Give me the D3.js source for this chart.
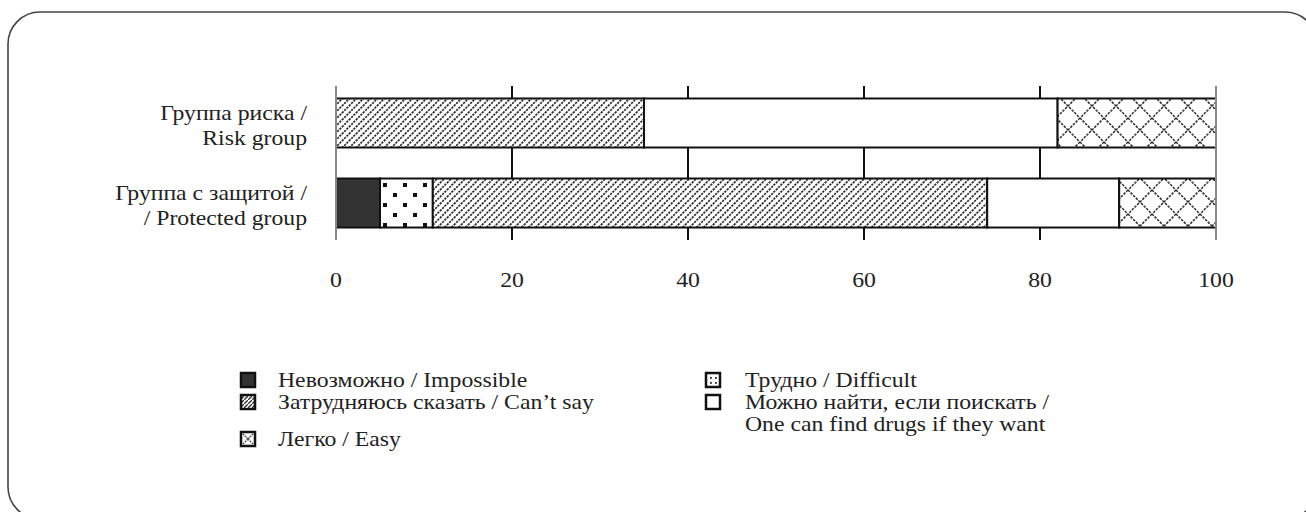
<!DOCTYPE html>
<html><head><meta charset="utf-8">
<script src="https://cdn.jsdelivr.net/npm/d3@7"></script>
<style>
html,body{margin:0;padding:0;background:#fff;}
svg text{font-family:"Liberation Serif","Times New Roman",serif;fill:#222;}
</style></head>
<body><svg id="c" width="1306" height="512"></svg>
<script>
const categories = ["Группа риска / Risk group", "Группа с защитой / Protected group"];
const categoryLines = [["Группа риска /", "Risk group"], ["Группа с защитой /", "/ Protected group"]];
const seriesNames = ["Невозможно / Impossible", "Трудно / Difficult", "Затрудняюсь сказать / Can’t say", "Можно найти, если поискать / One can find drugs if they want", "Легко / Easy"];
const impossible = [0, 5];
const difficult = [0, 6];
const cantSay = [35, 63];
const canFind = [47, 15];
const easy = [18, 11];
const xTicks = [0, 20, 40, 60, 80, 100];

const FS = 21, SX = 1.13;
const svg = d3.select("#c");
const defs = svg.append("defs");

function stext(sel, x, y, t, anchor){
  return sel.append("text").attr("transform",`translate(${x},${y}) scale(${SX},1)`)
    .attr("text-anchor",anchor||"start").attr("font-size",FS).text(t);
}

// patterns
const pHatch = defs.append("pattern").attr("id","hatch").attr("patternUnits","userSpaceOnUse").attr("width",7).attr("height",7);
pHatch.append("rect").attr("width",7).attr("height",7).attr("fill","#fff");
pHatch.append("path").attr("d","M-1,8 L8,-1 M-1,1 L1,-1 M6,8 L8,6").attr("stroke","#2a2a2a").attr("stroke-width",1.7).attr("stroke-dasharray","2.2,1");

const pCross = defs.append("pattern").attr("id","cross").attr("patternUnits","userSpaceOnUse").attr("width",24).attr("height",24).attr("y",-2);
pCross.append("rect").attr("width",24).attr("height",24).attr("fill","#fff");
pCross.append("path").attr("d","M0,0 L24,24 M24,0 L0,24").attr("stroke","#2a2a2a").attr("stroke-width",1.5).attr("stroke-dasharray","2.5,1.2");

const pDots = defs.append("pattern").attr("id","dots").attr("patternUnits","userSpaceOnUse").attr("width",20).attr("height",20).attr("x",3).attr("y",3);
pDots.append("rect").attr("width",20).attr("height",20).attr("fill","#fff");
pDots.append("rect").attr("x",0).attr("y",0).attr("width",4).attr("height",4).attr("fill","#111");
pDots.append("rect").attr("x",10).attr("y",10).attr("width",4).attr("height",4).attr("fill","#111");

const lHatch = defs.append("pattern").attr("id","lhatch").attr("patternUnits","userSpaceOnUse").attr("width",4).attr("height",4);
lHatch.append("rect").attr("width",4).attr("height",4).attr("fill","#fff");
lHatch.append("path").attr("d","M-1,5 L5,-1").attr("stroke","#333").attr("stroke-width",1.3);

const fills = ["#333333", "url(#dots)", "url(#hatch)", "#ffffff", "url(#cross)"];
const legendFills = ["#333333", "dots", "url(#lhatch)", "#ffffff", "cross"];

// frame
svg.append("rect").attr("x",8).attr("y",12).attr("width",1309).attr("height",507).attr("rx",32).attr("ry",32)
  .attr("fill","none").attr("stroke","#444").attr("stroke-width",1.6);

const x = d3.scaleLinear().domain([0,100]).range([336,1216]);
const y = d3.scaleBand().domain(categories).range([86,240]).paddingInner(0.3875).paddingOuter(0.156);

// gridlines
svg.append("g").selectAll("line").data(xTicks.filter(t=>t>0&&t<100)).join("line")
  .attr("x1",d=>x(d)).attr("x2",d=>x(d)).attr("y1",86).attr("y2",240)
  .attr("stroke","#111").attr("stroke-width",2);

// stacks
const seriesVals = [impossible, difficult, cantSay, canFind, easy];
const barG = svg.append("g");
categories.forEach((c,ci)=>{
  let acc = 0;
  seriesVals.forEach((s,si)=>{
    const v = s[ci];
    if (v>0){
      barG.append("rect").attr("x",x(acc)).attr("y",y(c)).attr("width",x(acc+v)-x(acc)).attr("height",y.bandwidth())
        .attr("fill",fills[si]).attr("stroke","#111").attr("stroke-width",2);
    }
    acc += v;
  });
});

// axis lines at 0 and 100
svg.append("g").selectAll("line").data([0,100]).join("line")
  .attr("x1",d=>x(d)).attr("x2",d=>x(d)).attr("y1",86).attr("y2",240)
  .attr("stroke","#888").attr("stroke-width",2);

// tick labels
const tg = svg.append("g");
xTicks.forEach(d=>stext(tg, x(d), 287, d, "middle"));

// category labels
categories.forEach((c,ci)=>{
  const cy = y(c)+y.bandwidth()/2;
  const lines = categoryLines[ci];
  stext(svg, 307, cy-3, lines[0], "end");
  stext(svg, 307, cy+22, lines[1], "end");
});

// legend
const legendPos = [
  {mx:248, my:380, tx:278, lines:["Невозможно / Impossible"]},
  {mx:713, my:380, tx:745, lines:["Трудно / Difficult"]},
  {mx:248, my:402, tx:278, lines:["Затрудняюсь сказать / Can’t say"]},
  {mx:713, my:402, tx:745, lines:["Можно найти, если поискать /","One can find drugs if they want"]},
  {mx:248, my:439, tx:278, lines:["Легко / Easy"]}
];
const lg = svg.append("g");
seriesNames.forEach((name,si)=>{
  const p = legendPos[si];
  const g = lg.append("g");
  const s = 14, h = s/2;
  const lf = legendFills[si];
  g.append("rect").attr("x",p.mx-h).attr("y",p.my-h).attr("width",s).attr("height",s)
    .attr("fill", (lf.startsWith("#")||lf.startsWith("url")) ? lf : "#fff")
    .attr("stroke","#111").attr("stroke-width",2.5);
  if (lf==="dots"){
    [[-3,-3],[2,2],[2,-3],[-3,2]].forEach(d=>g.append("rect").attr("x",p.mx+d[0]).attr("y",p.my+d[1]).attr("width",1.8).attr("height",1.8).attr("fill","#222"));
  }
  if (lf==="cross"){
    g.append("path").attr("d",`M${p.mx-5},${p.my-5} L${p.mx+5},${p.my+5} M${p.mx+5},${p.my-5} L${p.mx-5},${p.my+5}`)
      .attr("stroke","#333").attr("stroke-width",1.3).attr("stroke-dasharray","1.5,1");
  }
  p.lines.forEach((t,li)=>stext(g, p.tx, p.my+7+li*22, t));
});
</script></body></html>
